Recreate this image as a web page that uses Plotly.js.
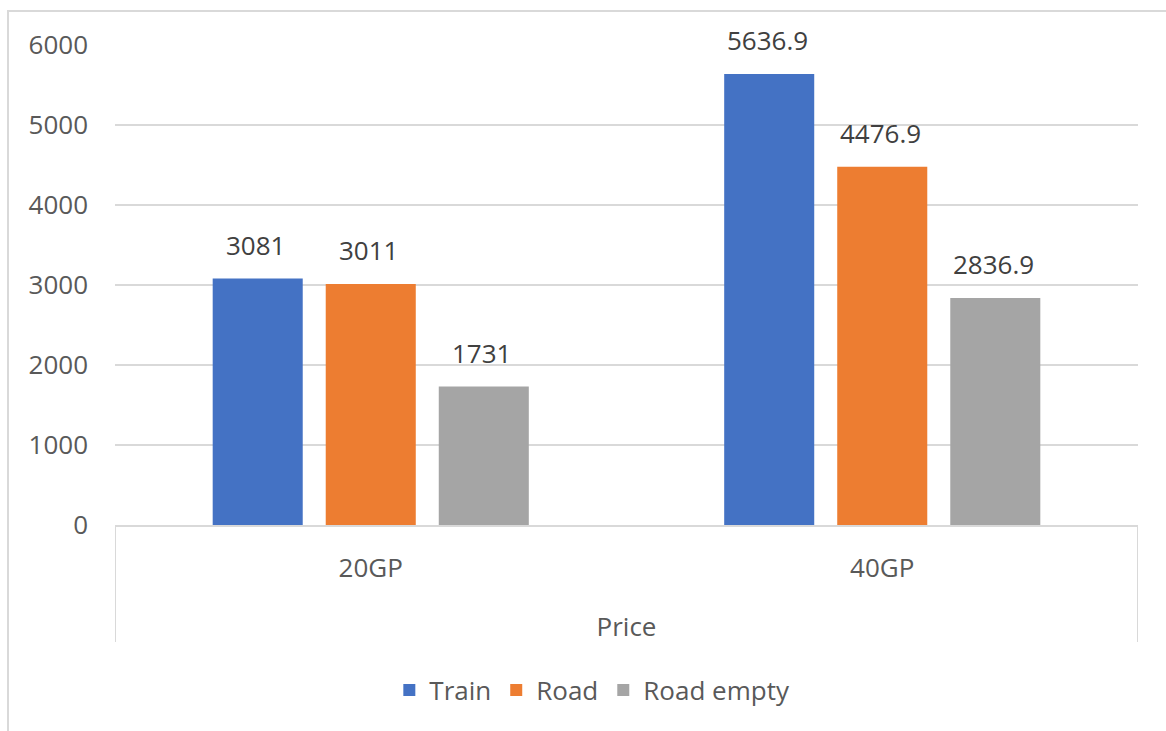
<!DOCTYPE html>
<html>
<head>
<meta charset="utf-8">
<script src="https://cdn.plot.ly/plotly-3.0.1.min.js"></script>
<style>
  html, body { margin: 0; padding: 0; background: #fff; }
  #wrap { position: relative; width: 1166px; height: 731px; overflow: hidden; }
  #frame { position: absolute; left: 7px; top: 10px; width: 1200px; height: 800px;
           border-left: 2px solid #d9d9d9; border-top: 2px solid #d9d9d9; pointer-events: none; }
  #chart { position: absolute; left: 0; top: 0; width: 1166px; height: 731px; }
</style>
</head>
<body>
<div id="wrap">
  <div id="chart"></div>
  <div id="frame"></div>
</div>
<script>
const categories = ["20GP", "40GP"];
const seriesNames = ["Train", "Road", "Road empty"];
const trainValues = [3081, 5636.9];
const roadValues = [3011, 4476.9];
const roadEmptyValues = [1731, 2836.9];
const labelTexts = [["3081", "5636.9"], ["3011", "4476.9"], ["1731", "2836.9"]];
const yTicks = [0, 1000, 2000, 3000, 4000, 5000, 6000];
const xTitle = "Price";

const colors = ["#4472C4", "#ED7D31", "#A5A5A5"];
const allValues = [trainValues, roadValues, roadEmptyValues];
const font = "Open Sans, sans-serif";

const traces = allValues.map((vals, i) => ({
  type: "bar",
  name: seriesNames[i],
  x: categories,
  y: vals,
  marker: { color: colors[i] },
  hoverinfo: "none"
}));

// data labels above the bars, shifted to each bar's slot in the group
const slotPx = 113;
const annotations = [];
allValues.forEach((vals, i) => {
  vals.forEach((v, j) => {
    annotations.push({
      x: categories[j], y: v, xref: "x", yref: "y",
      text: labelTexts[i][j], showarrow: false,
      xshift: (i - 1) * slotPx - 2, yshift: 14, yanchor: "bottom",
      font: { family: font, size: 26, color: "#404040" }
    });
  });
});

// outer category boundary lines below the axis
const boundaries = [-0.5, 1.5];
const shapes = boundaries.map(b => ({
  type: "line", xref: "x", yref: "paper",
  x0: b, x1: b, y0: 0, y1: -117 / 480,
  line: { color: "#d9d9d9", width: 2 }
}));

const layout = {
  width: 1166, height: 731,
  margin: { l: 115, r: 28, t: 45, b: 206 },
  paper_bgcolor: "#ffffff", plot_bgcolor: "#ffffff",
  barmode: "group",
  bargap: 0.337,
  bargroupgap: 0.2035,
  showlegend: true,
  legend: {
    orientation: "h", xref: "container", yref: "container",
    x: 0.508, xanchor: "center", y: 0.056, yanchor: "middle",
    font: { family: font, size: 26, color: "#595959" },
    itemwidth: 30, tracegroupgap: 0
  },
  xaxis: {
    type: "category",
    range: [-0.5, 1.5],
    showgrid: false,
    showline: true, linecolor: "#d9d9d9", linewidth: 2,
    ticks: "", ticklabelstandoff: 19,
    tickfont: { family: font, size: 26, color: "#595959" },
    title: { text: xTitle, font: { family: font, size: 26, color: "#595959" }, standoff: 34 },
    zeroline: false, fixedrange: true
  },
  yaxis: {
    range: [0, 6000],
    tickvals: yTicks,
    ticktext: yTicks.map(String),
    showgrid: true, gridcolor: "#d9d9d9", gridwidth: 2,
    showline: false, zeroline: false,
    ticks: "", ticklabelstandoff: 26,
    tickfont: { family: font, size: 26, color: "#595959" },
    fixedrange: true
  },
  annotations: annotations,
  shapes: shapes
};

Plotly.newPlot("chart", traces, layout, { displayModeBar: false, staticPlot: true });
</script>
</body>
</html>
